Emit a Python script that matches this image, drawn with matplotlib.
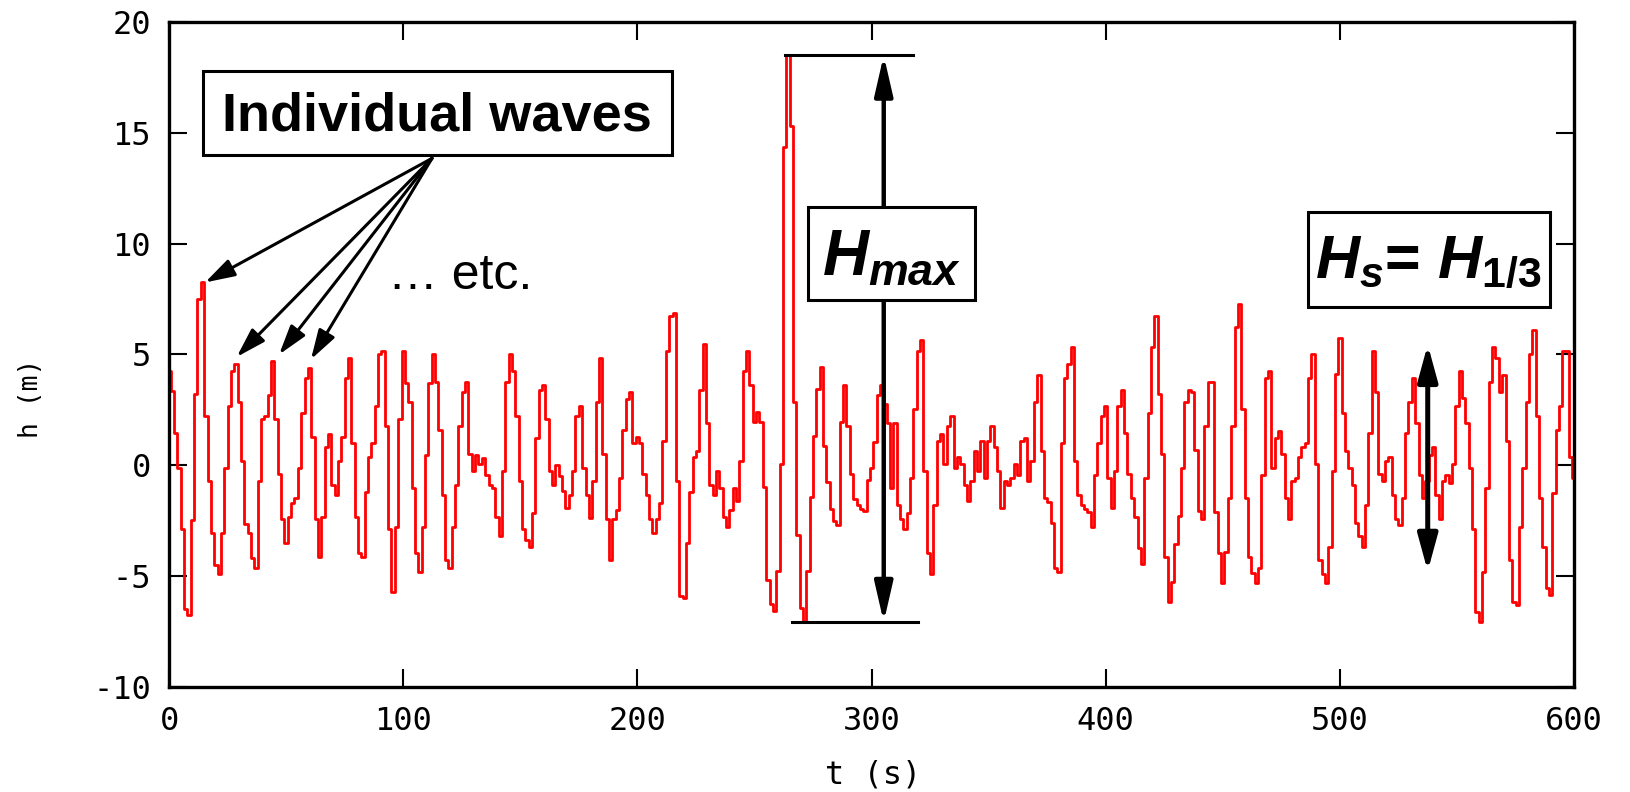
import numpy as np
import matplotlib
matplotlib.use("Agg")
import matplotlib.pyplot as plt
from matplotlib.patches import Rectangle

# bold italic math letters for the H labels
plt.rcParams['mathtext.fontset'] = 'custom'
plt.rcParams['mathtext.it'] = 'Liberation Sans:italic:bold'
plt.rcParams['mathtext.rm'] = 'Liberation Sans:bold'
plt.rcParams['mathtext.bf'] = 'Liberation Sans:bold'

# surface elevation h (m), one value per ~1.43 s, 0 -> 600 s
h_seg1 = [4.25, 3.35, 1.46, -0.12, -2.87, -6.46, -6.76, -2.46, 3.20, 7.50, 8.25, 2.22, -0.72,
          -3.06, -4.49, -4.92, -3.06, -0.12, 2.67, 4.25, 4.55, 2.87, 0.18, -2.65, -3.06, -4.16,
          -4.62, -0.72, 2.07, 2.22, 3.17, 4.71, 2.07, -0.39, -2.41, -3.51, -2.31, -1.70, -1.48,
          -0.12, 2.37, 3.95, 4.40]
h_seg2 = [1.27, -2.41, -4.12, -2.31, 0.81, 1.43, -0.87, -1.33, 0.18, 1.27, 3.95, 4.86, 1.01,
          -2.31, -3.97, -4.12, -1.22, 0.36, 1.01, 2.67, 5.01, 5.16, 1.76, -2.87, -5.70, -2.76,
          2.07, 5.16, 3.73, 2.85, -1.03, -3.97, -4.80, -2.76, 0.48, 3.73, 5.01, 3.76, 1.58,
          -1.33, -4.27, -4.62, -2.76]
h_seg3 = [-0.87, 1.76, 3.32, 3.77, 0.51, -0.27, 0.48, 0.06, 0.33, -0.42, -0.87, -1.03, -2.31,
          -3.21, -0.27, 3.77, 5.01, 4.25, 2.22, -0.69, -2.87, -3.36, -3.67, -2.13, 1.24, 3.42,
          3.62, 2.07, -0.27, -0.87, 0.03, -0.50, -1.18, -1.93, -1.33, -0.27, 2.22, 2.67, -0.12,
          -1.33, -2.38, -0.72, 2.87]
h_seg4 = [4.86, 0.51, -2.41, -4.27, -2.41, -2.01, -0.57, 1.58, 2.97, 3.30, 1.01, 1.27, 1.01,
          -0.39, -1.33, -2.41, -3.06, -2.41, -1.70, 1.12, 5.16, 6.74, 6.89, -0.69, -5.88, -6.00,
          -3.51, -1.21, 0.36, 0.66, 3.42, 5.46, 1.92, -0.87, -1.33, -0.27, -1.03, -2.31, -2.76,
          -2.01, -1.03, -1.63, 0.18, 4.25]
h_seg5 = [5.16, 3.64, 1.94, 2.39, 1.94, -1.00, -5.19, -6.26, -6.58, -4.75, 0.07, 14.34, 18.50,
          15.32, 2.84, -3.14, -6.44, -7.08, -4.75, -1.45, 1.32, 3.46, 4.44, 0.87, -0.73, -1.98,
          -2.52, -2.69, 1.94, 3.64, 1.77, -0.37, -1.53, -1.80, -1.98, -2.07, -0.64, -0.11, 1.05,
          3.19, 3.64, 2.75, 1.90]
h_seg6 = [-1.03, 1.92, -1.78, -2.41, -2.87, -2.16, -0.57, 2.52, 5.16, 5.64, -0.27, -3.97, -4.92,
          -1.78, 1.12, 1.42, 0.06, 1.76, 2.22, -0.12, 0.36, 0.06, -0.87, -1.63, -0.72, 0.66,
          -0.27, 1.12, -0.57, 1.12, 1.76, 0.81, -0.27, -1.93, -0.72, -0.87, -0.57, 0.06, -0.42,
          1.12, 1.24, -0.69, 0.18, 2.85]
h_seg7 = [4.07, 0.66, -1.48, -1.66, -2.61, -4.62, -4.80, 1.01, 3.95, 4.59, 5.34, 0.18, -1.36,
          -1.78, -1.98, -2.09, -2.76, -0.42, 1.01, 2.22, 2.67, -0.57, -1.93, -0.27, 2.67, 3.42,
          1.46, -0.39, -1.48, -2.31, -3.71, -4.46, -0.57, 2.37, 5.34, 6.74, 3.20, 0.51, -4.12,
          -6.15, -5.25, -3.56]
h_seg8 = [-2.30, -0.12, 2.85, 3.42, 3.32, 0.71, -2.08, -2.41, 1.76, 3.76, 3.76, -2.11, -3.97,
          -5.32, -3.89, -1.48, 1.76, 6.24, 7.30, 2.56, -1.48, -4.12, -4.87, -5.32, -4.62, -0.42,
          3.95, 4.25, -0.12, 1.24, 1.57, 0.51, -1.48, -2.41, -0.72, -0.57, 0.36, 0.81, 1.01,
          3.95, 5.01, 0.06, -4.27]
h_seg9 = [-4.90, -5.32, -3.67, -0.27, 4.10, 5.76, 2.37, 0.66, -0.12, -0.87, -2.61, -3.21, -3.67,
          -1.78, 1.46, 5.16, 3.32, -0.39, -0.69, 0.18, 0.36, -1.33, -2.41, -2.71, -1.48, 1.46,
          2.85, 3.95, 1.92, -0.42, -1.48, -0.72, 0.48, 0.81, -1.33, -2.41, -0.72, -0.42, -0.80,
          0.06, 2.67, 4.25, 3.05, 1.92, -0.12]
h_seg10 = [-2.87, -6.61, -7.06, -4.80, -1.03, 3.76, 5.34, 4.86, 3.32, 4.07, 1.12, -4.27, -6.15,
           -6.30, -2.76, -0.12, 2.85, 5.01, 6.09, 2.22, -1.48, -3.67, -5.55, -5.85, -1.25, 1.58,
           2.67, 5.16, 5.16, 0.36, -0.57]

h = np.array(h_seg1 + h_seg2 + h_seg3 + h_seg4 + h_seg5 + h_seg6 + h_seg7 + h_seg8 + h_seg9 + h_seg10)
t = np.linspace(0, 600, len(h))

x_ticks = [0, 100, 200, 300, 400, 500, 600]
y_ticks = [-10, -5, 0, 5, 10, 15, 20]

fig = plt.figure(figsize=(16.3, 7.92), dpi=100)
ax = fig.add_axes([0.1037, 0.1326, 0.862, 0.8396])

ax.plot(t, h, color='#ff0000', lw=2.0, drawstyle='steps-mid', zorder=2)

ax.set_xlim(0, 600)
ax.set_ylim(-10, 20)
ax.set_xticks(x_ticks)
ax.set_yticks(y_ticks)
mono = dict(family='DejaVu Sans Mono', size=23)
ax.set_xticklabels([str(v) for v in x_ticks], fontdict=mono)
ax.set_yticklabels([str(v) for v in y_ticks], fontdict=mono)
ax.tick_params(direction='in', length=13, width=1.5, top=True, right=True)
ax.tick_params(axis='x', pad=14)
ax.tick_params(axis='y', pad=13)
for s in ax.spines.values():
    s.set_linewidth(2.4)

ax.set_xlabel('t (s)', family='DejaVu Sans Mono', size=23, va='center')
ax.set_ylabel('h (m)', family='DejaVu Sans Mono', size=19, va='center')
ax.xaxis.set_label_coords(0.501, -0.133)
ax.yaxis.set_label_coords(-0.098, 0.434)

# "Individual waves" box with arrows to the first crests
ax.add_patch(Rectangle((14.5, 13.98), 200.3, 3.8, fc='white', ec='black', lw=2.2, zorder=5))
ax.text(114.6, 15.11, 'Individual waves', ha='center', va='baseline',
        family='Liberation Sans', weight='bold', size=39, zorder=6)
for tx, hy in [(15.4, 8.25), (28.9, 4.89), (47.0, 5.0), (60.6, 4.78)]:
    ax.annotate('', xy=(tx, hy), xytext=(112.3, 13.85),
                arrowprops=dict(arrowstyle='-|>,head_length=18,head_width=5.5', mutation_scale=1,
                                lw=2.2, color='black', shrinkA=0, shrinkB=0), zorder=4)
ax.text(93.5, 7.96, '\u2026 etc.', ha='left', va='baseline', family='Liberation Sans', size=36)

# H_max: crest of the freak wave to the following trough
i_max = int(np.argmax(h))
top = h[i_max]
bot = h[i_max:i_max + 10].min()
ax.plot([263, 317.7], [top, top], color='black', lw=2.2, zorder=3)
ax.plot([266, 319.8], [bot, bot], color='black', lw=2.2, zorder=3)
ax.annotate('', xy=(305.2, top), xytext=(305.2, bot),
            arrowprops=dict(arrowstyle='<|-|>,head_length=24,head_width=5.5', mutation_scale=1,
                            lw=3.2, color='black', shrinkA=0, shrinkB=0), zorder=4)
ax.add_patch(Rectangle((272.8, 7.47), 71.3, 4.2, fc='white', ec='black', lw=2.2, zorder=5))
ax.text(308.6, 8.6, '$H_{max}$', ha='center', va='baseline', size=46, zorder=6)

# significant wave height
ax.annotate('', xy=(537.5, 5.45), xytext=(537.5, -4.78),
            arrowprops=dict(arrowstyle='<|-|>,head_length=22,head_width=6', mutation_scale=1,
                            lw=3.6, color='black', shrinkA=0, shrinkB=0), zorder=4)
ax.add_patch(Rectangle((486.3, 7.15), 103.4, 4.3, fc='white', ec='black', lw=2.2, zorder=5))
ax.text(537.5, 8.45, '$H_s$= $H_{1/3}$', ha='center', va='baseline',
        family='Liberation Sans', weight='bold', size=44, zorder=6)

fig.savefig('out.png', dpi=100)
